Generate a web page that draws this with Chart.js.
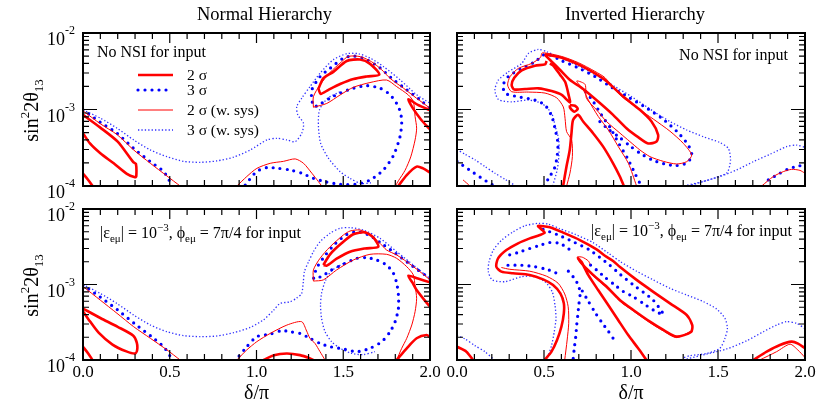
<!DOCTYPE html>
<html>
<head>
<meta charset="utf-8">
<script src="https://cdn.jsdelivr.net/npm/chart.js@4.4.1/dist/chart.umd.min.js"></script>
<style>
body { margin: 0; background: #fff; width: 818px; height: 403px; position: relative; overflow: hidden; }
canvas { position: absolute; }
</style>
</head>
<body>
<canvas id="tl" width="445" height="200" style="left:0;top:0"></canvas>
<canvas id="tr" width="373" height="200" style="left:445px;top:0"></canvas>
<canvas id="bl" width="445" height="203" style="left:0;top:200px"></canvas>
<canvas id="br" width="373" height="203" style="left:445px;top:200px"></canvas>
<script>
// axis labels
const xTickLabels = ['0.0', '0.5', '1.0', '1.5', '2.0'];
const yDecades = [1e-4, 1e-3, 1e-2];
const legendLabels = ['2 σ', '3 σ', '2 σ (w. sys)', '3 σ (w. sys)'];

// ---- Normal hierarchy, no NSI (top left) ----
const tlThickA = [[0,8.5e-4],[0.1,5.8e-4],[0.2,3.8e-4],[0.29,2.05e-4],[0.305,1.95e-4],[0.307,1.33e-4],[0.3,1.3e-4],[0.253,1.44e-4],[0.177,1.98e-4],[0.1,2.68e-4],[0.04,3.6e-4],[0,4.9e-4]];
const tlThickB = [[0,1.45e-4],[0.03,1.2e-4],[0.055,1e-4]];
const tlThickC = [[1.357,1.87e-3],[1.386,2.57e-3],[1.443,3.1e-3],[1.52,4.3e-3],[1.597,4.5e-3],[1.655,3.95e-3],[1.708,2.85e-3],[1.635,2.7e-3],[1.559,2.5e-3],[1.482,2.15e-3],[1.415,1.81e-3],[1.37,1.6e-3],[1.357,1.87e-3]];
const tlThickD = [[2.0,9.8e-4],[1.93,1.15e-3],[1.875,1.36e-3],[1.9,1.05e-3],[1.95,7.3e-4],[2.0,5.5e-4]];
const tlThickE = [[1.817,1e-4],[1.866,1.39e-4],[1.923,1.79e-4],[1.96,1.7e-4],[2.0,1.5e-4]];
const tlThin1 = [[0,9.6e-4],[0.1,6.5e-4],[0.196,4.7e-4],[0.292,2.96e-4],[0.388,1.98e-4],[0.484,1.35e-4],[0.56,1e-4]];
const tlThin2 = [[0.887,1e-4],[0.944,1.33e-4],[1.002,1.7e-4],[1.079,1.98e-4],[1.155,2.1e-4],[1.223,2.26e-4],[1.271,1.98e-4],[1.319,1.47e-4],[1.357,1.14e-4],[1.376,1e-4]];
const tlThin3 = [[1.328,1.07e-3],[1.328,1.47e-3],[1.366,2.1e-3],[1.424,3.05e-3],[1.49,4.2e-3],[1.53,4.95e-3],[1.6,4.9e-3],[1.664,4.2e-3],[1.722,3.3e-3],[1.77,2.55e-3],[1.847,1.9e-3],[1.923,1.4e-3],[2.0,1.04e-3]];
const tlThin4 = [[1.328,1.07e-3],[1.405,1.2e-3],[1.482,1.55e-3],[1.558,1.95e-3],[1.654,2.25e-3],[1.75,2.43e-3],[1.808,1.99e-3],[1.875,1.55e-3],[1.904,1.27e-3],[1.914,8.1e-4],[1.923,5.7e-4],[1.914,4.0e-4],[1.889,2.4e-4],[1.856,1.6e-4],[1.818,1.17e-4],[1.8,1e-4]];
const tlBig1 = [[0,9.9e-4],[0.1,6.8e-4],[0.196,4.9e-4],[0.292,3.1e-4],[0.388,2.08e-4],[0.464,1.55e-4],[0.512,1.03e-4]];
const tlBig2 = [[0.935,1.03e-4],[1.0,1.54e-4],[1.06,1.74e-4],[1.127,1.7e-4],[1.194,1.62e-4],[1.261,1.47e-4],[1.328,1.26e-4],[1.395,1.14e-4],[1.482,1.05e-4],[1.578,1.06e-4],[1.655,1.2e-4],[1.731,1.62e-4],[1.789,2.5e-4],[1.827,4.4e-4],[1.837,7.3e-4],[1.818,1.09e-3],[1.77,1.56e-3],[1.712,1.9e-3],[1.635,2.05e-3],[1.559,1.9e-3],[1.482,1.64e-3],[1.424,1.41e-3],[1.367,1.18e-3],[1.332,1.09e-3],[1.319,1.34e-3],[1.319,1.81e-3],[1.367,2.7e-3],[1.424,3.45e-3],[1.501,4.7e-3],[1.559,5.0e-3],[1.635,4.5e-3],[1.712,3.5e-3],[1.789,2.45e-3],[1.866,1.81e-3],[1.942,1.34e-3],[2.0,1.04e-3]];
const tlSmall1 = [[0,9.9e-4],[0.1,7.7e-4],[0.196,5.7e-4],[0.292,4.0e-4],[0.388,2.96e-4],[0.484,2.42e-4],[0.58,2.1e-4],[0.676,2.04e-4],[0.772,2.13e-4],[0.868,2.38e-4],[0.964,2.96e-4],[1.06,4.0e-4],[1.117,4.2e-4],[1.175,4.0e-4],[1.223,3.8e-4],[1.261,4.9e-4],[1.271,6.6e-4],[1.238,8.5e-4],[1.232,1.09e-3],[1.261,1.41e-3],[1.309,2.0e-3],[1.367,2.99e-3],[1.443,4.48e-3],[1.52,5.36e-3],[1.587,5.36e-3],[1.655,4.7e-3],[1.731,3.65e-3],[1.827,2.45e-3],[1.923,1.56e-3],[2.0,1.21e-3]];
const tlSmall2 = [[1.48,1.7e-3],[1.41,1.4e-3],[1.363,9.9e-4],[1.357,6.0e-4],[1.37,3.6e-4],[1.415,2.3e-4],[1.482,1.54e-4],[1.539,1.26e-4],[1.6,1.08e-4],[1.66,1.1e-4]];

// ---- Inverted hierarchy, no NSI (top right) ----
const trThickA = [[0.506,5.26e-3],[0.602,4.75e-3],[0.697,3.89e-3],[0.793,2.97e-3],[0.851,2.43e-3],[0.955,1.48e-3],[1.051,9.9e-4],[1.118,6.97e-4],[1.156,4.66e-4],[1.147,3.81e-4],[1.099,3.6e-4],[1.041,4.35e-4],[0.974,5.69e-4],[0.897,8.5e-4],[0.811,1.27e-3],[0.725,1.85e-3],[0.648,2.45e-3],[0.591,3.31e-3],[0.543,4.26e-3],[0.514,4.95e-3],[0.506,5.26e-3]];
const trThickB = [[0.515,4.3e-3],[0.506,3.89e-3],[0.448,3.74e-3],[0.372,3.25e-3],[0.329,2.6e-3],[0.314,2.09e-3],[0.329,1.83e-3],[0.391,1.85e-3],[0.468,1.89e-3],[0.544,1.74e-3],[0.602,1.55e-3],[0.649,1.24e-3],[0.64,1.6e-3],[0.63,2.0e-3],[0.621,2.31e-3],[0.592,2.85e-3],[0.553,3.74e-3],[0.534,4.0e-3]];
const trThickC = [[0.649,1.14e-3],[0.678,1.12e-3],[0.694,1.02e-3],[0.674,9.35e-4],[0.649,1.06e-3],[0.649,1.14e-3]];
const trThickD = [[0.61,1e-4],[0.629,1.79e-4],[0.648,2.96e-4],[0.658,4.9e-4],[0.667,7.3e-4],[0.696,8.5e-4],[0.725,6.97e-4],[0.782,4.9e-4],[0.84,3.27e-4],[0.897,1.98e-4],[0.936,1.33e-4],[0.959,1e-4]];
const trThinA = [[0.63,1e-4],[0.649,1.47e-4],[0.663,2.42e-4],[0.659,4.0e-4],[0.63,5.13e-4],[0.621,7.66e-4],[0.611,1.08e-3],[0.573,1.42e-3],[0.506,1.64e-3],[0.41,1.69e-3],[0.314,1.71e-3],[0.291,2.09e-3],[0.305,2.69e-3],[0.353,3.45e-3],[0.429,4.0e-3],[0.48,4.8e-3],[0.49,5.5e-3],[0.6,4.95e-3],[0.697,4.1e-3],[0.793,3.15e-3],[0.851,2.6e-3],[0.937,1.55e-3],[1.032,1.06e-3],[1.128,7.5e-4],[1.224,5.2e-4],[1.301,3.6e-4],[1.349,2.54e-4],[1.32,2.08e-4],[1.262,1.94e-4],[1.186,2.1e-4],[1.109,2.42e-4],[1.051,2.96e-4],[0.994,3.8e-4],[0.937,4.9e-4],[0.859,6.97e-4],[0.802,9.9e-4],[0.744,1.4e-3],[0.736,2.13e-3],[0.688,2.36e-3],[0.726,1.8e-3],[0.755,1.33e-3],[0.812,8.1e-4],[0.87,5.4e-4],[0.927,3.27e-4],[0.985,1.98e-4],[1.032,1e-4]];
const trThinB = [[0.035,1.2e-4],[0.075,1e-4]];
const trThinC = [[1.751,1e-4],[1.818,1.33e-4],[1.875,1.54e-4],[1.923,1.65e-4],[1.971,1.6e-4],[2.0,1.47e-4]];
const trBig1 = [[0.5,1e-4],[0.53,1.3e-4],[0.56,1.7e-4],[0.575,2.4e-4],[0.58,3.6e-4],[0.565,5.4e-4],[0.545,8.1e-4],[0.506,1.14e-3],[0.448,1.33e-3],[0.352,1.47e-3],[0.276,1.63e-3],[0.266,2.1e-3],[0.295,2.7e-3],[0.372,3.45e-3],[0.448,4.2e-3],[0.496,5.15e-3],[0.534,5.15e-3],[0.601,4.35e-3],[0.697,3.5e-3],[0.793,2.7e-3],[0.889,1.95e-3],[0.985,1.45e-3],[1.08,1.08e-3],[1.18,7.6e-4],[1.27,5.0e-4],[1.33,3.4e-4],[1.35,2.5e-4],[1.32,2.0e-4],[1.26,1.85e-4],[1.19,1.95e-4],[1.12,2.2e-4],[1.05,2.7e-4],[0.99,3.4e-4],[0.93,4.4e-4],[0.87,5.5e-4],[0.82,7.0e-4]];
const trBig2 = [[0.74,1.7e-3],[0.78,1.3e-3],[0.83,8.5e-4],[0.88,5.8e-4],[0.93,3.6e-4],[0.98,2.3e-4],[1.02,1.5e-4],[1.05,1.1e-4]];
const trBig3 = [[0,2.1e-4],[0.084,1.55e-4],[0.17,1.15e-4],[0.209,1.02e-4]];
const trBig4 = [[1.789,1.2e-4],[1.856,1.47e-4],[1.904,1.67e-4],[1.952,1.8e-4],[2.0,1.9e-4]];
const trSmall1 = [[0.55,1e-4],[0.575,1.6e-4],[0.585,2.4e-4],[0.585,4.0e-4],[0.565,6.0e-4],[0.544,8.9e-4],[0.487,1.2e-3],[0.41,1.33e-3],[0.314,1.26e-3],[0.238,1.35e-3],[0.218,1.8e-3],[0.238,2.43e-3],[0.295,3.1e-3],[0.372,4.0e-3],[0.41,5.4e-3],[0.467,6.1e-3],[0.515,5.7e-3],[0.621,4.45e-3],[0.716,3.55e-3],[0.812,2.7e-3],[0.908,1.99e-3],[1.004,1.47e-3],[1.128,9.5e-4],[1.224,6.97e-4],[1.32,5.4e-4],[1.416,4.4e-4],[1.511,3.7e-4],[1.559,3.11e-4],[1.572,2.2e-4],[1.553,1.5e-4],[1.492,1.3e-4],[1.406,1.13e-4],[1.32,1.02e-4]];
const trSmall2 = [[0,3.0e-4],[0.046,2.6e-4],[0.103,2.2e-4],[0.16,1.8e-4],[0.218,1.47e-4],[0.276,1.22e-4],[0.333,1.02e-4]];
const trSmall3 = [[1.33,1e-4],[1.435,1.18e-4],[1.511,1.33e-4],[1.607,1.62e-4],[1.703,2.08e-4],[1.799,2.6e-4],[1.894,3.27e-4],[1.952,3.43e-4],[2.0,3.2e-4]];

// ---- Normal hierarchy, with NSI (bottom left) ----
const blThickA = [[0,4.8e-4],[0.1,3.6e-4],[0.2,2.75e-4],[0.29,2.1e-4],[0.31,1.7e-4],[0.312,1.35e-4],[0.3,1.22e-4],[0.25,1.3e-4],[0.17,1.6e-4],[0.09,2.3e-4],[0.03,3.5e-4],[0,4.4e-4]];
const blThickB = [[0,1.5e-4],[0.03,1.22e-4],[0.055,1e-4]];
const blThickC = [[1.04,1e-4],[1.1,1.16e-4],[1.175,1.22e-4],[1.251,1.16e-4],[1.309,1.05e-4],[1.328,1e-4]];
const blThickD = [[1.385,1.81e-3],[1.424,2.51e-3],[1.49,3.51e-3],[1.558,4.63e-3],[1.625,4.9e-3],[1.673,4.2e-3],[1.702,3.16e-3],[1.625,3.0e-3],[1.539,2.72e-3],[1.462,2.2e-3],[1.405,1.78e-3],[1.385,1.81e-3]];
const blThickE = [[2.0,1.07e-3],[1.93,1.2e-3],[1.875,1.31e-3],[1.9,1.05e-3],[1.923,8.45e-4],[1.981,5.7e-4],[2.0,5.1e-4]];
const blThickF = [[1.808,1e-4],[1.866,1.43e-4],[1.923,1.94e-4],[1.981,2.14e-4],[2.0,2.0e-4]];
const blThin1 = [[0,9.4e-4],[0.1,6.2e-4],[0.196,4.15e-4],[0.292,2.76e-4],[0.388,1.94e-4],[0.484,1.36e-4],[0.56,1e-4]];
const blThin2 = [[0.887,1e-4],[0.944,1.36e-4],[1.002,1.75e-4],[1.079,2.25e-4],[1.175,2.9e-4],[1.26,3.22e-4],[1.289,2.42e-4],[1.308,1.94e-4],[1.337,1.66e-4],[1.366,1.29e-4],[1.395,1e-4]];
const blThin3 = [[1.328,1.11e-3],[1.328,1.56e-3],[1.366,2.22e-3],[1.424,3.16e-3],[1.501,4.53e-3],[1.539,5.11e-3],[1.597,5.27e-3],[1.654,4.62e-3],[1.712,3.51e-3],[1.75,2.86e-3],[1.808,2.46e-3],[1.866,2.0e-3],[1.942,1.48e-3],[2.0,1.15e-3]];
const blThin4 = [[1.328,1.11e-3],[1.385,1.15e-3],[1.462,1.56e-3],[1.558,2.11e-3],[1.654,2.51e-3],[1.75,2.51e-3],[1.808,2.22e-3],[1.866,1.72e-3],[1.904,1.34e-3],[1.914,9.55e-4],[1.923,6.56e-4],[1.914,4.37e-4],[1.895,2.91e-4],[1.866,1.94e-4],[1.837,1.43e-4],[1.808,1e-4]];
const blBig1 = [[0,9.8e-4],[0.1,6.8e-4],[0.2,4.6e-4],[0.3,3.0e-4],[0.4,2.0e-4],[0.47,1.45e-4],[0.51,1.05e-4]];
const blBig2 = [[2.0,1.2e-3],[1.9,1.75e-3],[1.8,2.6e-3],[1.72,3.5e-3],[1.65,4.5e-3],[1.58,5.0e-3],[1.52,4.6e-3],[1.45,3.4e-3],[1.4,2.5e-3],[1.35,1.7e-3],[1.33,1.2e-3],[1.38,1.3e-3],[1.43,1.55e-3],[1.49,1.81e-3],[1.578,2.22e-3],[1.635,2.27e-3],[1.693,2.11e-3],[1.75,1.81e-3],[1.789,1.41e-3],[1.808,1.04e-3],[1.818,7.26e-4],[1.818,4.83e-4],[1.799,3.22e-4],[1.77,2.37e-4],[1.722,1.75e-4],[1.654,1.43e-4],[1.578,1.29e-4],[1.501,1.4e-4],[1.424,1.5e-4],[1.366,1.66e-4],[1.308,1.94e-4],[1.251,2.25e-4],[1.193,2.37e-4],[1.145,2.45e-4],[1.079,2.2e-4],[1.002,2.04e-4],[0.944,1.5e-4],[0.896,1.1e-4],[0.88,1e-4]];
const blSmall1 = [[0,1e-3],[0.1,7.6e-4],[0.196,5.6e-4],[0.292,3.94e-4],[0.388,2.91e-4],[0.484,2.37e-4],[0.58,2.1e-4],[0.676,2.04e-4],[0.772,2.08e-4],[0.868,2.3e-4],[0.964,2.7e-4],[1.04,3.4e-4],[1.1,4.6e-4],[1.135,5.6e-4],[1.193,5.9e-4],[1.231,6.6e-4],[1.26,7.6e-4],[1.27,1.09e-3],[1.276,1.48e-3],[1.3,2.0e-3],[1.328,2.72e-3],[1.366,3.69e-3],[1.424,4.77e-3],[1.482,5.55e-3],[1.54,5.66e-3],[1.616,5.27e-3],[1.712,4.08e-3],[1.808,2.72e-3],[1.904,1.81e-3],[1.981,1.3e-3],[2.0,1.2e-3]];
const blSmall2 = [[1.5,1.9e-3],[1.43,1.5e-3],[1.395,1.09e-3],[1.375,7.64e-4],[1.369,5.35e-4],[1.375,3.56e-4],[1.395,2.37e-4],[1.433,1.75e-4],[1.482,1.43e-4],[1.55,1.22e-4],[1.616,1.18e-4],[1.683,1.29e-4]];

// ---- Inverted hierarchy, with NSI (bottom right) ----
const brThickA = [[0.504,1e-4],[0.543,1.29e-4],[0.575,1.84e-4],[0.6,2.76e-4],[0.614,4.15e-4],[0.614,5.63e-4],[0.594,7.64e-4],[0.552,9.85e-4],[0.495,1.17e-3],[0.418,1.34e-3],[0.322,1.41e-3],[0.255,1.48e-3],[0.226,1.72e-3],[0.236,2.22e-3],[0.284,2.86e-3],[0.351,3.51e-3],[0.418,4.08e-3],[0.476,4.53e-3],[0.504,4.86e-3],[0.485,5.38e-3],[0.466,5.96e-3],[0.533,5.72e-3],[0.61,4.86e-3],[0.706,3.88e-3],[0.802,2.92e-3],[0.85,2.4e-3],[0.897,2.05e-3],[0.937,1.7e-3],[1.032,1.15e-3],[1.128,8.0e-4],[1.224,5.63e-4],[1.32,3.94e-4],[1.352,2.9e-4],[1.345,2.35e-4],[1.262,2.04e-4],[1.186,2.5e-4],[1.109,3.22e-4],[1.013,4.6e-4],[0.937,6.2e-4],[0.859,9.4e-4],[0.782,1.34e-3],[0.725,1.8e-3],[0.696,2.22e-3],[0.715,2.0e-3],[0.754,1.34e-3],[0.811,8.45e-4],[0.869,5.35e-4],[0.926,3.39e-4],[0.984,2.14e-4],[1.041,1.43e-4],[1.089,1e-4]];
const brThickB = [[0,1.5e-4],[0.054,1.29e-4],[0.092,1e-4]];
const brThickC = [[1.703,1e-4],[1.78,1.29e-4],[1.856,1.58e-4],[1.923,1.75e-4],[1.96,1.65e-4],[2.0,1.43e-4]];
const brThinA = [[0.255,1.68e-3],[0.303,1.59e-3],[0.418,1.5e-3],[0.514,1.29e-3],[0.581,1.04e-3],[0.619,7.5e-4],[0.639,5.08e-4],[0.642,3.06e-4],[0.633,1.84e-4],[0.619,1e-4]];
const brThinB = [[1.35,2.45e-4],[1.262,1.98e-4],[1.186,2.42e-4],[1.109,3.12e-4],[1.013,4.45e-4],[0.937,6.0e-4],[0.859,9.1e-4],[0.782,1.3e-3],[0.725,1.75e-3],[0.69,2.3e-3],[0.72,2.3e-3],[0.755,2.05e-3],[0.765,1.85e-3]];
const brThinC = [[1.74,1e-4],[1.837,1.29e-4],[1.914,1.62e-4],[1.96,1.35e-4],[2.0,1.08e-4]];
const brBig1 = [[0.495,5.38e-3],[0.581,4.53e-3],[0.667,3.69e-3],[0.763,2.86e-3],[0.878,1.8e-3],[0.94,1.35e-3],[1.013,9.9e-4],[1.071,7.9e-4],[1.128,6.2e-4],[1.186,4.0e-4],[1.128,4.6e-4],[1.07,5.63e-4],[1.012,6.9e-4],[0.955,8.1e-4],[0.907,9.85e-4],[0.85,1.25e-3],[0.802,1.56e-3],[0.744,2.0e-3]];
const brBig2 = [[0.303,2.47e-3],[0.361,2.7e-3],[0.418,3.0e-3],[0.476,3.3e-3],[0.533,3.6e-3],[0.591,3.5e-3],[0.639,3.0e-3],[0.667,2.6e-3]];
const brBig3 = [[0.293,1.8e-3],[0.37,1.8e-3],[0.447,1.72e-3],[0.514,1.59e-3],[0.562,1.45e-3],[0.6,1.3e-3]];
const brBig4 = [[0.64,1.5e-3],[0.675,1.2e-3],[0.7,9.5e-4],[0.707,7.26e-4],[0.7,5.35e-4],[0.694,3.9e-4],[0.688,2.91e-4],[0.682,2.0e-4],[0.674,1.43e-4],[0.668,1.05e-4]];
const brBig5 = [[0.72,8.2e-4],[0.755,6.0e-4],[0.79,4.4e-4],[0.83,3.2e-4],[0.87,2.4e-4],[0.9,1.9e-4]];
const brSmall1 = [[0.506,1e-4],[0.525,1.16e-4],[0.544,1.58e-4],[0.559,2.37e-4],[0.569,3.56e-4],[0.563,5.35e-4],[0.548,7.9e-4],[0.509,1.07e-3],[0.448,1.27e-3],[0.372,1.27e-3],[0.276,1.09e-3],[0.203,1.15e-3],[0.18,1.48e-3],[0.184,2.0e-3],[0.209,2.86e-3],[0.257,3.88e-3],[0.324,5.0e-3],[0.391,6.0e-3],[0.467,6.45e-3],[0.525,6.3e-3],[0.59,5.5e-3],[0.68,4.6e-3],[0.78,3.6e-3],[0.87,2.6e-3],[0.94,2.0e-3],[1.032,1.5e-3],[1.128,1.15e-3],[1.224,8.9e-4],[1.32,7.26e-4],[1.416,5.93e-4],[1.492,4.73e-4],[1.54,3.56e-4],[1.554,2.63e-4],[1.54,1.94e-4],[1.511,1.43e-4],[1.435,1.22e-4],[1.339,1.14e-4],[1.3,1.07e-4]];
const brSmall2 = [[0,2.1e-4],[0.046,1.9e-4],[0.103,1.55e-4],[0.16,1.29e-4],[0.209,1.03e-4]];
const brSmall3 = [[1.32,1.03e-4],[1.435,1.2e-4],[1.55,1.4e-4],[1.665,1.8e-4],[1.761,2.37e-4],[1.837,2.91e-4],[1.894,3.22e-4],[1.952,3.06e-4],[2.0,2.6e-4]];

const FONT = "'Liberation Serif', 'DejaVu Serif', serif";

const lineStyles = {
    thick: { borderColor: '#ff0000', borderWidth: 2.6 },
    thin: { borderColor: '#ff0000', borderWidth: 1 },
    dots: { borderColor: '#0000ff', borderWidth: 3.2, borderDash: [0, 7], borderCapStyle: 'round' },
    fine: { borderColor: '#2f2fff', borderWidth: 1.3, borderDash: [1.3, 2.1] }
};

// draw a run of text pieces (for super/subscripts)
function drawRich(ctx, parts, x, y, align) {
    let w = 0;
    parts.forEach(p => { ctx.font = p.size + 'px ' + FONT; w += ctx.measureText(p.t).width; });
    let cx = align === 'right' ? x - w : align === 'center' ? x - w / 2 : x;
    parts.forEach(p => {
        ctx.font = p.size + 'px ' + FONT;
        ctx.fillText(p.t, cx, y + (p.dy || 0));
        cx += ctx.measureText(p.t).width;
    });
}

function strokeSample(ctx, kind, x0, x1, yy) {
    const s = lineStyles[kind];
    ctx.save();
    ctx.strokeStyle = s.borderColor;
    ctx.lineWidth = s.borderWidth;
    ctx.setLineDash(s.borderDash || []);
    ctx.lineCap = s.borderCapStyle || 'butt';
    ctx.beginPath();
    ctx.moveTo(x0, yy);
    ctx.lineTo(x1, yy);
    ctx.stroke();
    ctx.restore();
}

const nsiText = [
    { t: '|ε', size: 16 }, { t: 'eμ', size: 11, dy: 4 }, { t: '| = 10', size: 16 },
    { t: '−3', size: 11, dy: -7 }, { t: ', ϕ', size: 16 }, { t: 'eμ', size: 11, dy: 4 },
    { t: ' = 7π/4 for input', size: 16 }
];

const framePlugin = {
    id: 'frame',
    afterDatasetsDraw(chart, args, o) {
        const { ctx, chartArea: a, scales: { x, y } } = chart;
        ctx.save();
        ctx.strokeStyle = '#000';
        ctx.fillStyle = '#000';
        ctx.setLineDash([]);

        // inward ticks on all four sides
        ctx.lineWidth = 1.2;
        ctx.beginPath();
        for (let i = 1; i < 20; i++) {
            const px = x.getPixelForValue(i / 10);
            const len = i % 5 === 0 ? 10 : 6;
            ctx.moveTo(px, a.top); ctx.lineTo(px, a.top + len);
            ctx.moveTo(px, a.bottom); ctx.lineTo(px, a.bottom - len);
        }
        [1e-4, 1e-3].forEach(d => {
            for (let k = 1; k < 10; k++) {
                const v = d * k;
                if (v <= 1e-4) continue;
                const py = y.getPixelForValue(v);
                const len = k === 1 ? 14 : 6;
                ctx.moveTo(a.left, py); ctx.lineTo(a.left + len, py);
                ctx.moveTo(a.right, py); ctx.lineTo(a.right - len, py);
            }
        });
        ctx.stroke();
        ctx.lineWidth = 2;
        ctx.strokeRect(a.left, a.top, a.width, a.height);

        ctx.textAlign = 'left';
        ctx.textBaseline = 'alphabetic';

        if (o.yLabels) {
            yDecades.forEach(v => {
                const py = y.getPixelForValue(v);
                const ex = Math.round(Math.log10(v));
                ctx.font = '18px ' + FONT;
                ctx.textAlign = 'right';
                ctx.fillText('10', a.left - 18, py + 12);
                ctx.textAlign = 'left';
                ctx.font = '12px ' + FONT;
                ctx.fillText('-' + (-ex), a.left - 18, py + 1);
            });
            // rotated y title
            ctx.save();
            ctx.translate(a.left - 45, (a.top + a.bottom) / 2 + 1);
            ctx.rotate(-Math.PI / 2);
            drawRich(ctx, [{ t: 'sin', size: 20 }, { t: '2', size: 13, dy: -9 }, { t: '2θ', size: 20 }, { t: '13', size: 13, dy: 5 }], 0, 0, 'center');
            ctx.restore();
        }
        if (o.xLabels) {
            ctx.font = '17px ' + FONT;
            ctx.textAlign = 'center';
            xTickLabels.forEach(l => ctx.fillText(l, x.getPixelForValue(parseFloat(l)), a.bottom + 17));
            ctx.font = '20px ' + FONT;
            ctx.fillText('δ/π', (a.left + a.right) / 2, a.bottom + 39);
            ctx.textAlign = 'left';
        }
        if (o.title) {
            ctx.font = '18.5px ' + FONT;
            ctx.textAlign = 'center';
            ctx.fillText(o.title, (a.left + a.right) / 2 + o.titleShift, a.top - 13);
            ctx.textAlign = 'left';
        }
        if (o.note === 'left') {
            ctx.font = '16px ' + FONT;
            ctx.fillText('No NSI for input', a.left + 14, a.top + 24);
        } else if (o.note === 'right') {
            ctx.font = '16px ' + FONT;
            ctx.textAlign = 'right';
            ctx.fillText('No NSI for input', a.right - 17, a.top + 27);
            ctx.textAlign = 'left';
        } else if (o.note === 'nsiLeft') {
            drawRich(ctx, nsiText, a.left + 17, a.top + 29, 'left');
        } else if (o.note === 'nsiRight') {
            drawRich(ctx, nsiText, a.right - 13, a.top + 27, 'right');
        }
        if (o.legend) {
            const kinds = ['thick', 'dots', 'thin', 'fine'];
            const rows = [42, 57, 77, 97];
            ctx.font = '15.5px ' + FONT;
            kinds.forEach((k, i) => {
                const yy = a.top + rows[i];
                strokeSample(ctx, k, a.left + 55, a.left + 90, yy);
                ctx.fillText(legendLabels[i], a.left + 104, yy + 5);
            });
        }
        ctx.restore();
    }
};

function makeChart(id, pad, opts, sets) {
    const datasets = sets.map(([pts, kind]) => ({
        data: pts.map(([px, py]) => ({ x: px, y: py })),
        showLine: true,
        pointRadius: 0,
        fill: false,
        tension: 0.25,
        ...lineStyles[kind]
    }));
    return new Chart(document.getElementById(id), {
        type: 'scatter',
        data: { datasets },
        options: {
            responsive: false,
            animation: false,
            events: [],
            layout: { padding: pad },
            plugins: { legend: { display: false }, tooltip: { enabled: false }, frame: opts },
            scales: {
                x: { type: 'linear', min: 0, max: 2, display: false },
                y: { type: 'logarithmic', min: 1e-4, max: 1e-2, display: false }
            }
        },
        plugins: [framePlugin]
    });
}

makeChart('tl', { left: 83, right: 15, top: 33, bottom: 14 },
    { title: 'Normal Hierarchy', titleShift: 8, yLabels: true, xLabels: false, note: 'left', legend: true },
    [[tlThickA, 'thick'], [tlThickB, 'thick'], [tlThickC, 'thick'], [tlThickD, 'thick'], [tlThickE, 'thick'],
     [tlThin1, 'thin'], [tlThin2, 'thin'], [tlThin3, 'thin'], [tlThin4, 'thin'],
     [tlBig1, 'dots'], [tlBig2, 'dots'], [tlSmall1, 'fine'], [tlSmall2, 'fine']]);

makeChart('tr', { left: 12, right: 13, top: 33, bottom: 14 },
    { title: 'Inverted Hierarchy', titleShift: 4, yLabels: false, xLabels: false, note: 'right', legend: false },
    [[trThickA, 'thick'], [trThickB, 'thick'], [trThickC, 'thick'], [trThickD, 'thick'],
     [trThinA, 'thin'], [trThinB, 'thin'], [trThinC, 'thin'],
     [trBig1, 'dots'], [trBig2, 'dots'], [trBig3, 'dots'], [trBig4, 'dots'],
     [trSmall1, 'fine'], [trSmall2, 'fine'], [trSmall3, 'fine']]);

makeChart('bl', { left: 83, right: 15, top: 9, bottom: 43 },
    { title: '', titleShift: 0, yLabels: true, xLabels: true, note: 'nsiLeft', legend: false },
    [[blThickA, 'thick'], [blThickB, 'thick'], [blThickC, 'thick'], [blThickD, 'thick'], [blThickE, 'thick'], [blThickF, 'thick'],
     [blThin1, 'thin'], [blThin2, 'thin'], [blThin3, 'thin'], [blThin4, 'thin'],
     [blBig1, 'dots'], [blBig2, 'dots'], [blSmall1, 'fine'], [blSmall2, 'fine']]);

makeChart('br', { left: 12, right: 13, top: 9, bottom: 43 },
    { title: '', titleShift: 0, yLabels: false, xLabels: true, note: 'nsiRight', legend: false },
    [[brThickA, 'thick'], [brThickB, 'thick'], [brThickC, 'thick'],
     [brThinA, 'thin'], [brThinB, 'thin'], [brThinC, 'thin'],
     [brBig1, 'dots'], [brBig2, 'dots'], [brBig3, 'dots'], [brBig4, 'dots'], [brBig5, 'dots'],
     [brSmall1, 'fine'], [brSmall2, 'fine'], [brSmall3, 'fine']]);
</script>
</body>
</html>
